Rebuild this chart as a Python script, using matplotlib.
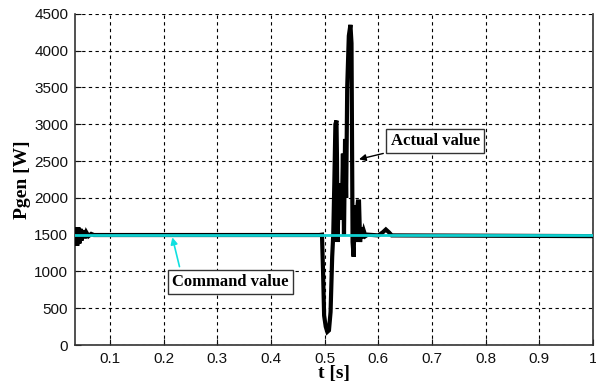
import matplotlib.pyplot as plt

# generator power
t_actual = [0.035, 0.037, 0.039, 0.041, 0.043, 0.045, 0.047, 0.050, 0.053, 0.056,
            0.060, 0.065, 0.070, 0.490, 0.495, 0.497, 0.499, 0.502, 0.505, 0.508,
            0.511, 0.514, 0.516, 0.518, 0.520, 0.522, 0.523, 0.524, 0.526, 0.528,
            0.530, 0.532, 0.534, 0.536, 0.538, 0.540, 0.542, 0.545, 0.548, 0.550,
            0.552, 0.554, 0.556, 0.558, 0.560, 0.562, 0.564, 0.566, 0.568, 0.570,
            0.573, 0.576, 0.580, 0.600, 0.608, 0.614, 0.620, 0.625, 1.000]
p_actual = [1500, 1600, 1350, 1600, 1380, 1580, 1420, 1560, 1450, 1530,
            1480, 1510, 1495, 1495, 1500, 1000, 400, 250, 180, 200,
            450, 1200, 1500, 2200, 3000, 3050, 2500, 1400, 2000, 1700,
            2200, 1800, 2600, 1500, 2800, 2000, 3500, 4200, 4350, 4100,
            1400, 1200, 1900, 1400, 1800, 1950, 1950, 1400, 1600, 1450,
            1550, 1480, 1500, 1490, 1530, 1570, 1530, 1490, 1480]

t_command = [0.035, 1.0]
p_command = [1500, 1500]

xticks = [0.1, 0.2, 0.3, 0.4, 0.5, 0.6, 0.7, 0.8, 0.9, 1]
xtick_labels = ['0.1', '0.2', '0.3', '0.4', '0.5', '0.6', '0.7', '0.8', '0.9', '1']
yticks = [0, 500, 1000, 1500, 2000, 2500, 3000, 3500, 4000, 4500]

fig = plt.figure(figsize=(5.96, 3.83), dpi=100)
ax = fig.add_axes([0.126, 0.099, 0.869, 0.865])

ax.plot(t_actual, p_actual, color='black', lw=3, solid_joinstyle='miter', zorder=3)
ax.plot(t_command, p_command, color='#10d0d0', lw=2, zorder=4)

ax.set_xlim(0.035, 1.0)
ax.set_ylim(0, 4500)
ax.set_xticks(xticks)
ax.set_xticklabels(xtick_labels)
ax.set_yticks(yticks)
ax.grid(True, color='black', ls=(0, (3, 3)), lw=0.8)
ax.tick_params(direction='in', length=4, labelsize=11, colors='#111111', pad=5)
for lab in ax.get_xticklabels() + ax.get_yticklabels():
    lab.set_family('Liberation Sans')
ax.spines['top'].set_visible(False)
for s in ['left', 'bottom', 'right']:
    ax.spines[s].set_linewidth(1.2)
    ax.spines[s].set_color('#333333')

ax.set_ylabel('Pgen [W]', family='Liberation Serif', weight='bold', fontsize=14, labelpad=2)
ax.set_xlabel('t [s]', family='Liberation Serif', weight='bold', fontsize=14, labelpad=-1)

box = dict(boxstyle='square,pad=0.25', fc='white', ec='#333333', lw=1)
ax.annotate('Actual value', xy=(0.559, 2515), xytext=(0.706, 2773),
            ha='center', va='center', fontsize=12, weight='bold',
            family='Liberation Serif', bbox=box, zorder=6,
            arrowprops=dict(arrowstyle='-|>', color='black', lw=1, mutation_scale=10))
ax.annotate('Command value', xy=(0.215, 1500), xytext=(0.324, 857),
            ha='center', va='center', fontsize=12, weight='bold',
            family='Liberation Serif', bbox=box, zorder=6,
            arrowprops=dict(arrowstyle='-|>', color='#10e0e0', lw=1.2, mutation_scale=10,
                            relpos=(0.08, 1.0)))

fig.savefig('out.png', dpi=100)
